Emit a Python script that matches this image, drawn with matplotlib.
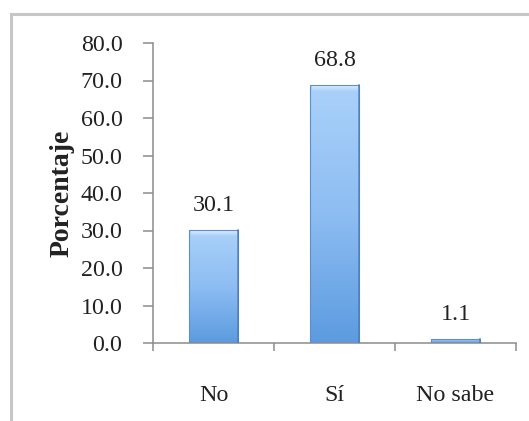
import numpy as np
import matplotlib
matplotlib.use("Agg")
import matplotlib.pyplot as plt
from matplotlib.colors import LinearSegmentedColormap
from matplotlib.patches import Rectangle

categories = ["No", "Sí", "No sabe"]
values = [30.1, 68.8, 1.1]
y_ticks = [0, 10, 20, 30, 40, 50, 60, 70, 80]

plt.rcParams["font.family"] = ["Liberation Serif", "DejaVu Serif"]

fig = plt.figure(figsize=(5.29, 4.21), dpi=100)
fig.patch.set_facecolor("white")

# outer chart-area border (open to the right and bottom)
fig.add_artist(plt.Line2D([11 / 529, 11 / 529], [0, 1 - 14 / 421],
                          transform=fig.transFigure, color="#c6c6c6", lw=2.2))
fig.add_artist(plt.Line2D([11 / 529, 1], [1 - 14 / 421, 1 - 14 / 421],
                          transform=fig.transFigure, color="#c6c6c6", lw=2.2))

ax = fig.add_axes([153 / 529, 1 - 343 / 421, 363 / 529, 300 / 421])
ax.set_xlim(-0.5, 2.5)
ax.set_ylim(0, 80)

bar_cmap = LinearSegmentedColormap.from_list(
    "barfill", ["#aad1fa", "#8dbdf2", "#5c9be0"])
highlight = LinearSegmentedColormap.from_list(
    "hl", ["#e6f2ff", "#aad1fa"])

width = 0.413
label_size = 17.3
grad = np.linspace(0, 1, 256).reshape(-1, 1)
for i, v in enumerate(values):
    x0, x1 = i - width / 2, i + width / 2
    im = ax.imshow(grad, cmap=bar_cmap, aspect="auto", origin="upper",
                   extent=[x0, x1, 0, v], zorder=2, interpolation="bilinear")
    rect = Rectangle((x0, 0), width, v, transform=ax.transData)
    im.set_clip_path(rect)
    # top bevel highlight
    bev = min(1.6, v * 0.3)
    hl = ax.imshow(grad, cmap=highlight, aspect="auto", origin="upper",
                   extent=[x0 + 0.02, x1 - 0.02, v - bev, v], zorder=3,
                   interpolation="bilinear", alpha=0.9)
    hl.set_clip_path(rect)
    # thin edges
    ax.add_patch(Rectangle((x0, 0), width, v, fill=False,
                           edgecolor="#5d8fc8", lw=0.8, zorder=4))
    ax.plot([x1 - 0.006, x1 - 0.006], [0, v], color="#4676b0", lw=1.2,
            alpha=0.7, zorder=4)
    ax.text(i, v + 6.5, f"{v:.1f}", ha="center", va="center",
            fontsize=label_size, color="#222222", zorder=5)

for s in ["top", "right"]:
    ax.spines[s].set_visible(False)
for s in ["left", "bottom"]:
    ax.spines[s].set_color("#8c8c8c")
    ax.spines[s].set_linewidth(1.1)

ax.set_yticks(y_ticks)
ax.set_yticklabels([f"{t:.1f}" for t in y_ticks])
ax.set_xticks([0, 1, 2])
ax.set_xticklabels(categories)
ax.set_xticks([-0.5, 0.5, 1.5, 2.5], minor=True)

ax.tick_params(axis="y", direction="out", length=7, width=1.1,
               color="#8c8c8c", labelsize=label_size, pad=15,
               labelcolor="#222222")
ax.tick_params(axis="x", which="major", length=0, labelsize=label_size,
               pad=30, labelcolor="#222222")
ax.tick_params(axis="x", which="minor", direction="out", length=6, width=1.1,
               color="#8c8c8c")

ax.set_ylabel("Porcentaje", fontsize=20, fontweight="bold", color="#222222")
ax.yaxis.set_label_coords(-0.215, 0.5)

fig.savefig("out.png", dpi=100, facecolor="white")
